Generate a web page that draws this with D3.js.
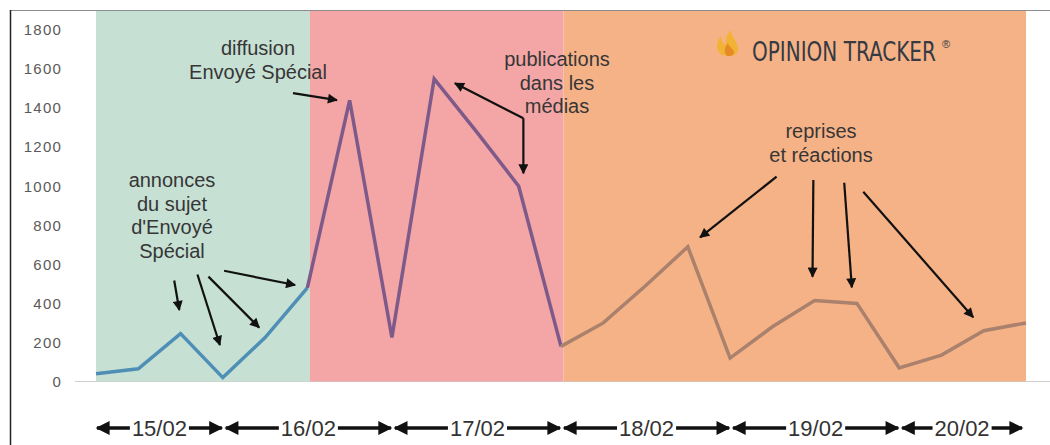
<!DOCTYPE html>
<meta charset="utf-8">
<html>
<head>
<style>
  body { margin: 0; background: #fff; }
  text { font-family: "Liberation Sans", Arial, sans-serif; }
  .tick text { fill: #5a5a5a; font-size: 15px; letter-spacing: 1.2px; }
  .note { fill: #363636; font-size: 20px; }
  .day { fill: #333; font-size: 22px; }
</style>
</head>
<body>
<script src="https://cdnjs.cloudflare.com/ajax/libs/d3/7.8.5/d3.min.js"></script>
<script>
// mentions, une valeur toutes les 6 heures environ
var values = [40, 65, 245, 20, 225, 480,
              1440, 225, 1550, 1280, 1000, 180,
              300, 490, 690, 120, 280, 415, 400, 70, 135, 260, 300];

// trois périodes (index de début / fin)
var periods = [
  {start: 0, end: 5, fill: "#c6e0d4", line: "#4f8fb6"},
  {start: 5, end: 11, fill: "#f4a6a6", line: "#7e5a8a"},
  {start: 11, end: 22, fill: "#f6b287", line: "#a9816c"}
];

var days = ["15/02", "16/02", "17/02", "18/02", "19/02", "20/02"];
var dayBounds = [0, 3, 7, 11, 15, 19, 22];

var yTicks = [0, 200, 400, 600, 800, 1000, 1200, 1400, 1600, 1800];

// annotations: texte + flèches (en coordonnées des données : index, valeur)
var notes = [
  {lines: ["diffusion", "Envoyé Spécial"], x: 258, y: 55,
   arrows: [[[4.66, 1477], [5.70, 1441]]]},
  {lines: ["annonces", "du sujet", "d'Envoyé", "Spécial"], x: 172, y: 187,
   arrows: [[[1.85, 517], [1.97, 366]],
            [[2.40, 548], [2.93, 187]],
            [[2.66, 537], [3.86, 276]],
            [[3.03, 567], [4.71, 494]]]},
  {lines: ["publications", "dans les", "médias"], x: 557, y: 66,
   arrows: [[[10.11, 1348], [8.49, 1527]],
            [[10.11, 1348], [10.11, 1066]]]},
  {lines: ["reprises", "et réactions"], x: 821, y: 138,
   arrows: [[[16.10, 1049], [14.29, 738]],
            [[16.97, 1032], [16.95, 537]],
            [[17.70, 1018], [17.88, 482]],
            [[18.15, 972], [20.75, 329]]]}
];

var width = 1050, height = 445;

var x = d3.scaleLinear().domain([0, values.length - 1]).range([96, 1026]);
var y = d3.scaleLinear().domain([0, 1800]).range([381.5, 30]);

var svg = d3.select("body").append("svg")
  .attr("width", width)
  .attr("height", height);

var defs = svg.append("defs");
defs.append("marker")
  .attr("id", "head")
  .attr("viewBox", "0 0 10 10")
  .attr("refX", 9).attr("refY", 5)
  .attr("markerWidth", 11).attr("markerHeight", 10)
  .attr("markerUnits", "userSpaceOnUse")
  .attr("orient", "auto")
  .append("path").attr("d", "M0,0L10,5L0,10Z").attr("fill", "#111");
defs.append("marker")
  .attr("id", "big")
  .attr("viewBox", "0 0 10 10")
  .attr("refX", 9).attr("refY", 5)
  .attr("markerWidth", 15).attr("markerHeight", 14)
  .attr("markerUnits", "userSpaceOnUse")
  .attr("orient", "auto-start-reverse")
  .append("path").attr("d", "M0,0L10,5L0,10Z").attr("fill", "#111");

// cadre
svg.append("line").attr("x1", 10).attr("x2", width).attr("y1", 10.5).attr("y2", 10.5)
  .attr("stroke", "#8c8c8c").attr("stroke-width", 1);
svg.append("line").attr("x1", 10.5).attr("x2", 10.5).attr("y1", 10).attr("y2", height)
  .attr("stroke", "#222").attr("stroke-width", 1.5);

// ligne de base
svg.append("line").attr("x1", 75).attr("x2", width).attr("y1", y(0)).attr("y2", y(0))
  .attr("stroke", "#cfcfcf");

// fonds des périodes
svg.selectAll("rect.period").data(periods).enter().append("rect")
  .attr("class", "period")
  .attr("x", function(d, i) { return i == 0 ? x(d.start) : x(d.start) + 2.5; })
  .attr("width", function(d, i) { return x(d.end) + (i == 2 ? 0 : 2.5) - (i == 0 ? x(d.start) : x(d.start) + 2.5); })
  .attr("y", 11)
  .attr("height", y(0) - 11)
  .attr("fill", function(d) { return d.fill; });

// axe y
var yAxis = svg.append("g")
  .attr("transform", "translate(62,0)")
  .call(d3.axisLeft(y).tickValues(yTicks).tickFormat(d3.format("d")).tickSize(0).tickPadding(0));
yAxis.select(".domain").remove();

// courbe
var line = d3.line()
  .x(function(d) { return x(d.i); })
  .y(function(d) { return y(d.v); });

svg.selectAll("path.serie").data(periods).enter().append("path")
  .attr("class", "serie")
  .attr("d", function(p) {
    var pts = [];
    for (var i = p.start; i <= p.end; i++) pts.push({i: i, v: values[i]});
    return line(pts);
  })
  .attr("fill", "none")
  .attr("stroke", function(p) { return p.line; })
  .attr("stroke-width", 3.5)
  .attr("stroke-linejoin", "miter");

// annotations
notes.forEach(function(n) {
  var t = svg.append("text").attr("class", "note").attr("text-anchor", "middle");
  n.lines.forEach(function(l, k) {
    t.append("tspan").attr("x", n.x).attr("y", n.y + k * 23.5).text(l);
  });
  n.arrows.forEach(function(a) {
    svg.append("line")
      .attr("x1", x(a[0][0])).attr("y1", y(a[0][1]))
      .attr("x2", x(a[1][0])).attr("y2", y(a[1][1]))
      .attr("stroke", "#111").attr("stroke-width", 2.2)
      .attr("marker-end", "url(#head)");
  });
});

// logo
var logo = svg.append("g").attr("transform", "translate(713,30)");
logo.append("path")
  .attr("d", "M9,25 C2,20 3,12 8,6 C8,12 11,14 13,15 C12,9 14,4 18,0 C18,8 26,12 25,20 C24,25 20,26 17,26 Z")
  .attr("fill", "#f2b233");
logo.append("path")
  .attr("d", "M14,26 C10,22 12,17 15,13 C16,18 22,19 21,23 C20,26 17,26 14,26 Z")
  .attr("fill", "#e58a25");
var brand = svg.append("text")
  .style("font-family", "'DejaVu Sans Condensed', 'Liberation Sans Narrow', sans-serif")
  .style("font-size", "26px")
  .style("fill", "#353a43")
  .text("OPINION TRACKER");
var bw = brand.node().getComputedTextLength();
var fs = 26 * 184 / bw;
brand.style("font-size", fs + "px")
  .attr("transform", "translate(752,61) scale(1," + (26 / fs) + ")");
svg.append("text")
  .attr("x", 942).attr("y", 48)
  .style("font-size", "11px")
  .style("fill", "#353a43")
  .text("®");

// dates en bas
var dayY = 428;
days.forEach(function(d, i) {
  var x0 = x(dayBounds[i]) + (i == 0 ? 1 : 3);
  var x1 = x(dayBounds[i + 1]) - (i == days.length - 1 ? 4 : 1);
  var t = svg.append("text").attr("class", "day")
    .attr("x", (x0 + x1) / 2).attr("y", dayY + 8)
    .attr("text-anchor", "middle").text(d);
  var w = t.node().getComputedTextLength();
  var c = (x0 + x1) / 2;
  svg.append("line")
    .attr("x1", c - w / 2 - 2).attr("x2", x0)
    .attr("y1", dayY).attr("y2", dayY)
    .attr("stroke", "#111").attr("stroke-width", 3.5)
    .attr("marker-end", "url(#big)");
  svg.append("line")
    .attr("x1", c + w / 2 + 2).attr("x2", x1)
    .attr("y1", dayY).attr("y2", dayY)
    .attr("stroke", "#111").attr("stroke-width", 3.5)
    .attr("marker-end", "url(#big)");
});
</script>
</body>
</html>
